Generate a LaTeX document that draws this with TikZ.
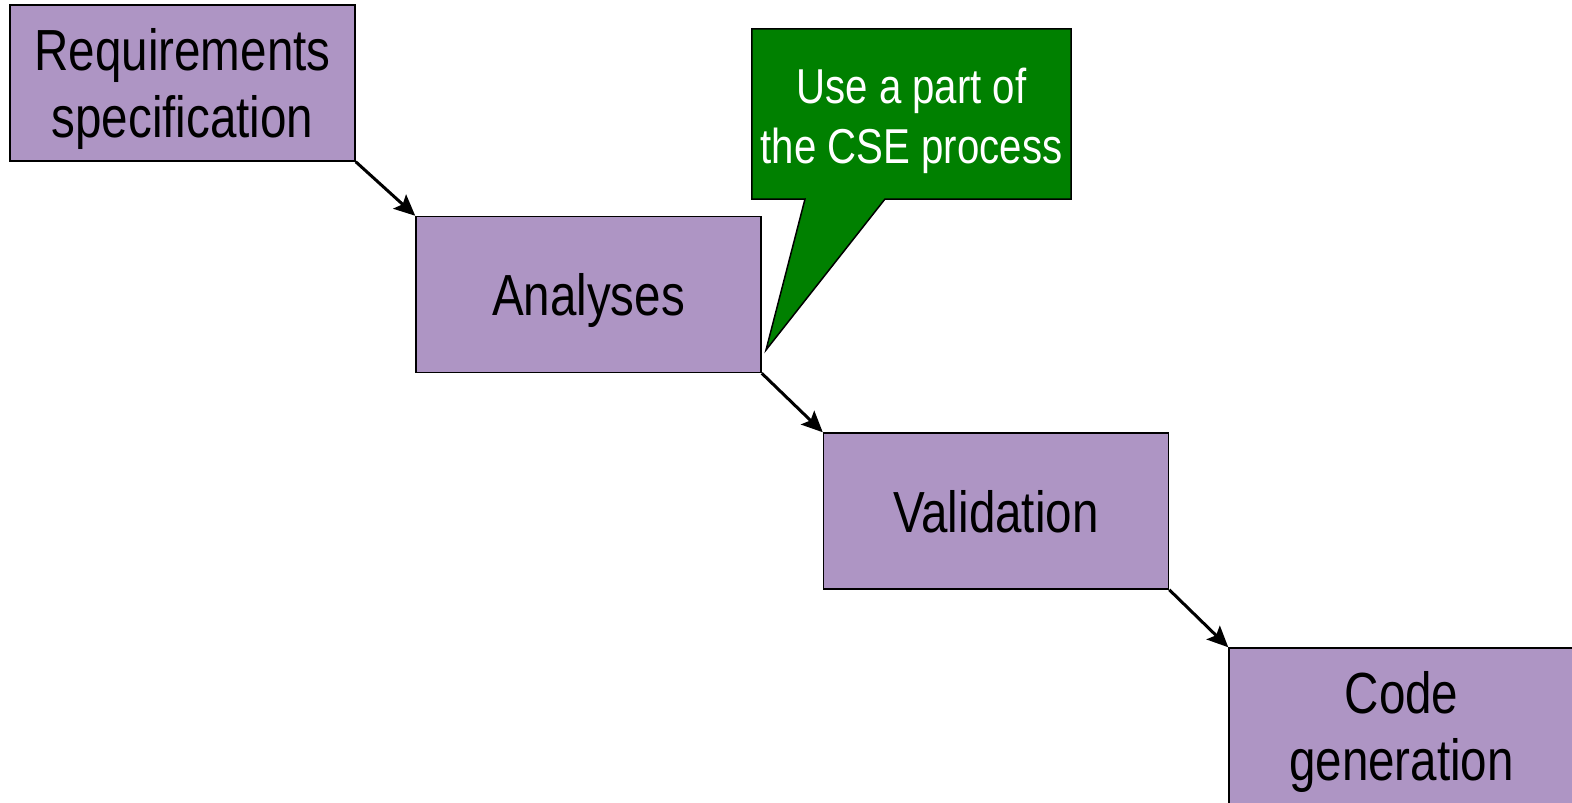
\documentclass[tikz,border=0pt]{standalone}
\usepackage{fontspec}
\setmainfont{Liberation Sans}[FakeStretch=0.82]
\usepackage{xcolor}
\usetikzlibrary{arrows.meta}
\usetikzlibrary{positioning}

\definecolor{lilac}{RGB}{174,149,196}
\definecolor{notegreen}{RGB}{0,128,0}

\begin{document}
\begin{tikzpicture}[x=1pt,y=-1pt,
		phase/.style={draw,line width=1.5pt,fill=lilac,minimum width=345pt,minimum height=156pt,inner sep=0pt,align=center,text depth=0pt,font=\fontsize{58}{67}\selectfont},
		flow/.style={line width=3pt,-{Stealth[length=21pt,width=19pt,inset=4pt]}}]
		%Frame
			\useasboundingbox (0,0) rectangle (1572,803);
		%Phases
			\node[phase] (req) at (182.5,83) {Requirements\\specification};
			\node[phase] (ana) at (588.5,294.5) {Analyses};
			\node[phase] (val) at (996,511) {Validation};
			\node[phase] (gen) at (1401.5,726) {Code\\generation};
		%Steps
			\draw[flow] (req.south east) -- (ana.north west);
			\draw[flow] (ana.south east) -- (val.north west);
			\draw[flow] (val.south east) -- (gen.north west);
		%Note
			\path node (note) at (911.5,114) [minimum width=319pt,minimum height=170pt,inner sep=0pt] {};
			\draw[line width=1.5pt,fill=notegreen,line join=miter] (note.north west) -- (note.north east) -- (note.south east)
				-- (885,199) -- (766,350) -- (805,199) -- (note.south west) -- cycle;
			\node[text=white,align=center,text depth=0pt,font=\fontsize{49}{60}\selectfont] (notetext) at ([yshift=-2pt]note.center) {Use a part of\\the CSE process};
	\end{tikzpicture}
\end{document}
